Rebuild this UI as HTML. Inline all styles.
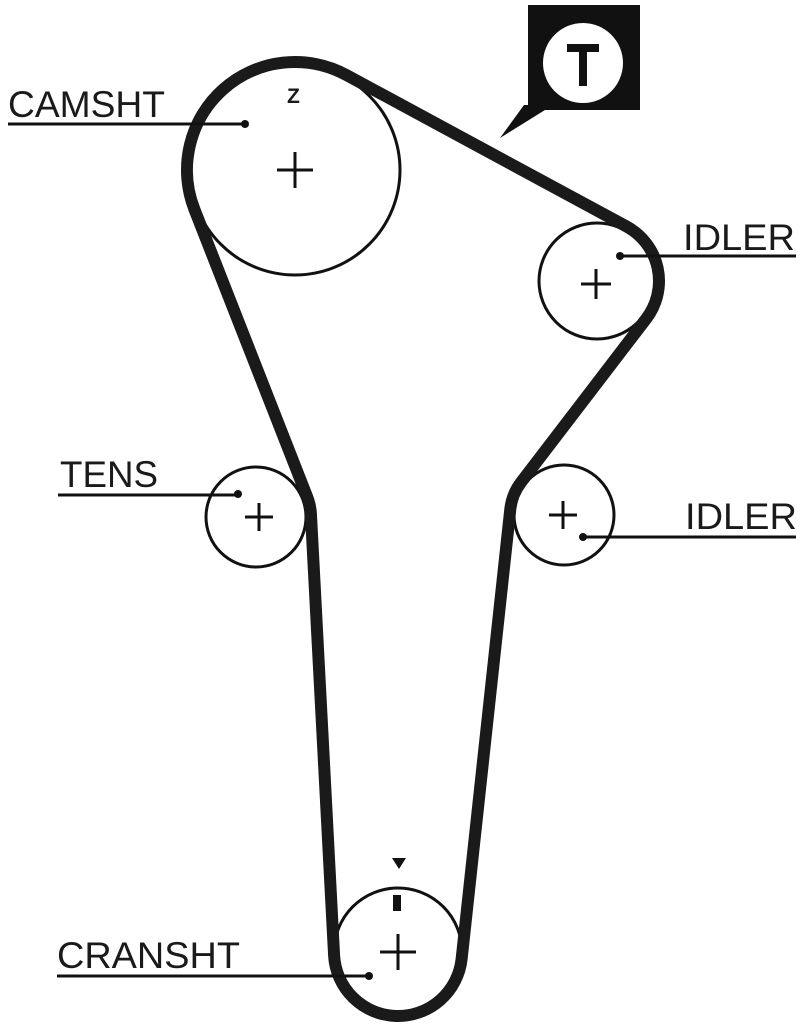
<!DOCTYPE html>
<html><head><meta charset="utf-8"><style>
html,body{margin:0;padding:0;background:#fff;}
svg{display:block;}
text{font-family:"Liberation Sans",sans-serif;fill:#1a1a1a;}
</style></head><body>
<svg id="s" width="805" height="1024" viewBox="0 0 805 1024" xmlns="http://www.w3.org/2000/svg">
<g fill="none" stroke="#111" stroke-width="3">
<circle cx="295" cy="170" r="105"/>
<circle cx="597" cy="281" r="58"/>
<circle cx="256" cy="517" r="50"/>
<circle cx="564" cy="515" r="50"/>
<circle cx="398" cy="952" r="64"/>
</g>
<path id="belt" fill="none" stroke="#1a1a1a" stroke-width="12" stroke-linejoin="round"/>
<g stroke="#111" stroke-width="3">
<line x1="277" y1="170" x2="313" y2="170"/><line x1="295" y1="152" x2="295" y2="188"/>
<line x1="581" y1="284" x2="611" y2="284"/><line x1="596" y1="269" x2="596" y2="299"/>
<line x1="245" y1="517" x2="273" y2="517"/><line x1="259" y1="503" x2="259" y2="531"/>
<line x1="549" y1="515" x2="577" y2="515"/><line x1="563" y1="501" x2="563" y2="529"/>
<line x1="380" y1="952" x2="416" y2="952"/><line x1="398" y1="934" x2="398" y2="970"/>
<line x1="8" y1="124" x2="245" y2="124"/>
<line x1="620" y1="256" x2="796" y2="256"/>
<line x1="58" y1="495" x2="238" y2="495"/>
<line x1="583" y1="537" x2="796" y2="537"/>
<line x1="57" y1="976" x2="368" y2="976"/>
</g>
<g fill="#111">
<circle cx="245" cy="124" r="4"/><circle cx="620" cy="256" r="4"/>
<circle cx="238" cy="494" r="4"/><circle cx="583" cy="537" r="4"/>
<circle cx="369" cy="976" r="4"/>
<polygon points="392,858 406,858 399,869"/>
<rect x="393" y="895" width="8" height="16"/>
<path d="M528 5 H640 V110 H545 L500 138 L524 105 H528 Z"/>
</g>
<circle cx="583" cy="63" r="40" fill="#fff"/>
<g stroke="#111" stroke-width="8" fill="none"><line x1="567" y1="48" x2="599" y2="48"/><line x1="583" y1="48" x2="583" y2="86"/></g>
<text x="8" y="117" font-size="37" textLength="157" lengthAdjust="spacingAndGlyphs">CAMSHT</text>
<text x="683" y="250" font-size="37" textLength="112" lengthAdjust="spacingAndGlyphs">IDLER</text>
<text x="60" y="487" font-size="37" textLength="98" lengthAdjust="spacingAndGlyphs">TENS</text>
<text x="685" y="529" font-size="37" textLength="112" lengthAdjust="spacingAndGlyphs">IDLER</text>
<text x="57" y="968" font-size="37" textLength="183" lengthAdjust="spacingAndGlyphs">CRANSHT</text>
<text x="287" y="103" font-size="21" font-weight="bold">Z</text>
</svg>
<script>
var P=[[295,170,108],[597,281,62],[564,515,-54],[398,952,64],[256,517,-55]];
function tan(A,B){var dx=B[0]-A[0],dy=B[1]-A[1],L=Math.hypot(dx,dy),th=Math.atan2(dy,dx);
var c=(A[2]-B[2])/L,phi=Math.acos(Math.max(-1,Math.min(1,c)));
for(var s of [1,-1]){var a=th+s*phi,nx=Math.cos(a),ny=Math.sin(a);
var p1=[A[0]+A[2]*nx,A[1]+A[2]*ny],p2=[B[0]+B[2]*nx,B[1]+B[2]*ny];
var tx=-ny,ty=nx;if((p2[0]-p1[0])*tx+(p2[1]-p1[1])*ty>0)return[p1,p2];}
}
var T=[];for(var i=0;i<P.length;i++)T.push(tan(P[i],P[(i+1)%P.length]));
var d="";
for(var i=0;i<P.length;i++){var t=T[i];var nx=T[(i+1)%P.length];
if(i==0)d+="M"+t[0][0]+" "+t[0][1];
d+=" L"+t[1][0]+" "+t[1][1];
var C=P[(i+1)%P.length],r=Math.abs(C[2]),sw=C[2]>0?1:0;
var a1=Math.atan2(t[1][1]-C[1],t[1][0]-C[0]),a2=Math.atan2(nx[0][1]-C[1],nx[0][0]-C[0]);
var da=sw?a2-a1:a1-a2;while(da<0)da+=2*Math.PI;
d+=" A"+r+" "+r+" 0 "+(da>Math.PI?1:0)+" "+sw+" "+nx[0][0]+" "+nx[0][1];}
document.getElementById("belt").setAttribute("d",d+"Z");
</script>
</body></html>
